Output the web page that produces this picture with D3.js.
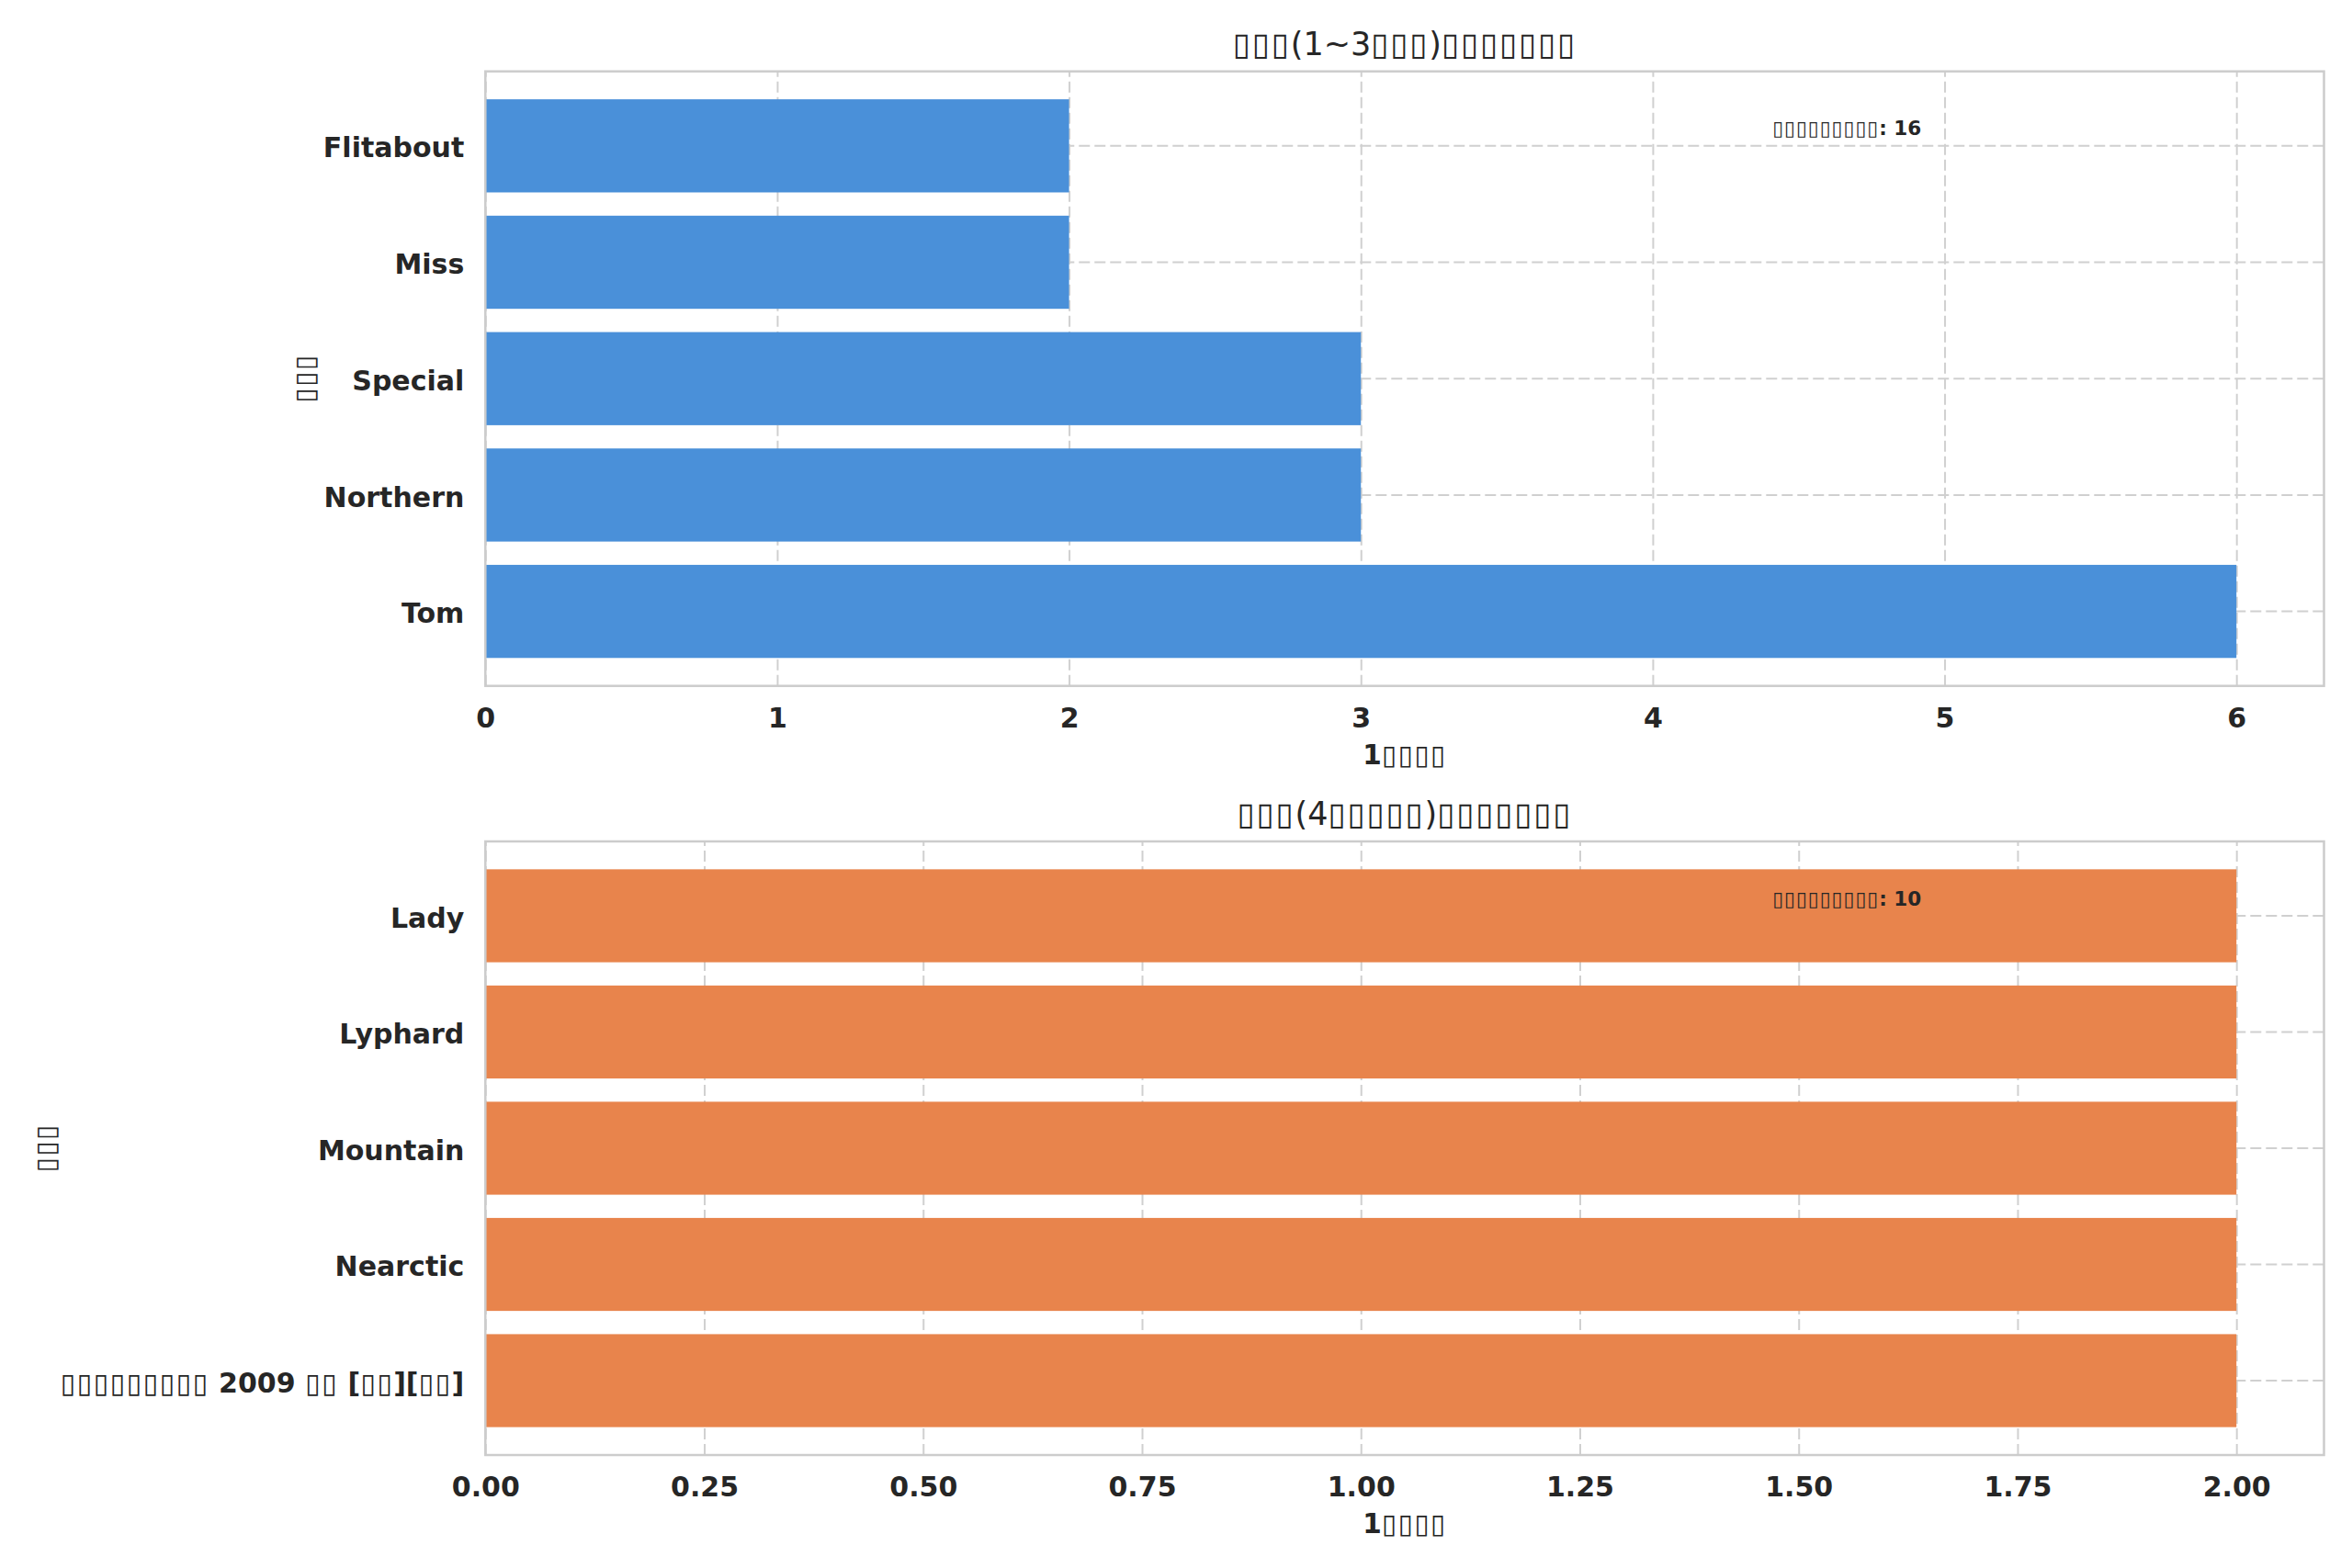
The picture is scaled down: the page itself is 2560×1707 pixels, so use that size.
<!DOCTYPE html>
<html>
<head>
<meta charset="utf-8">
<script src="https://cdn.jsdelivr.net/npm/d3@7"></script>
<style>
  body { margin: 0; background: #fff; }
  svg { display: block; font-family: "DejaVu Sans", sans-serif; }
</style>
</head>
<body>
<svg id="chart" width="2560" height="1707"></svg>
<script>
// glyphs that could not be drawn in the original picture are kept as ▯
var topNames = ["Tom", "Northern", "Special", "Miss", "Flitabout"];
var topWins = [6, 3, 3, 2, 2];
var bottomNames = ["▯▯▯▯▯▯▯▯▯ 2009 ▯▯ [▯▯][▯▯]", "Nearctic", "Mountain", "Lyphard", "Lady"];
var bottomWins = [2, 2, 2, 2, 2];
var topTicks = [0, 1, 2, 3, 4, 5, 6];
var bottomTicks = [0, 0.25, 0.5, 0.75, 1, 1.25, 1.5, 1.75, 2];
var topTitle = "▯▯▯(1~3▯▯▯)▯▯▯▯▯▯▯";
var bottomTitle = "▯▯▯(4▯▯▯▯▯)▯▯▯▯▯▯▯";
var xLabelText = "1▯▯▯▯";
var yLabelText = "▯▯▯";
var totalText = "▯▯▯▯▯▯▯▯▯: ";

var svg = d3.select("#chart");
svg.append("rect").attr("width", 2560).attr("height", 1707).attr("fill", "#fff");

var left = 528.3, right = 2529.5;
var textColor = "#262626";

// width of the box glyph, so that each box takes 0.6em like the original
var probe = svg.append("text").attr("font-size", 100).text("▯▯▯▯▯▯▯▯▯▯");
var boxAdv = probe.node().getComputedTextLength() / 1000;
probe.remove();
var boxSpacing = 0.6 - boxAdv;

function richText(sel, str) {
    var runs = str.match(/▯+|[^▯]+/g);
    runs.forEach(function (r) {
        var t = sel.append("tspan").text(r);
        if (r[0] === "▯") {
            t.attr("font-weight", "normal")
                .style("letter-spacing", boxSpacing + "em");
        }
    });
}

function drawPanel(cfg) {
    var top = cfg.top, bottom = cfg.bottom;
    var g = svg.append("g");
    var x = d3.scaleLinear()
        .domain([0, d3.max(cfg.values) * 1.05])
        .range([left, right]);
    var y = d3.scaleBand()
        .domain(cfg.names.slice().reverse())
        .range([top, bottom])
        .paddingInner(0.2)
        .paddingOuter(0.24);

    // grid
    var gx = g.append("g")
        .attr("transform", "translate(0," + bottom + ")")
        .call(d3.axisBottom(x).tickValues(cfg.ticks).tickSize(-(bottom - top)).tickFormat(""));
    var gy = g.append("g")
        .attr("transform", "translate(" + left + ",0)")
        .call(d3.axisLeft(y).tickSize(-(right - left)).tickFormat(""));
    [gx, gy].forEach(function (a) {
        a.select(".domain").remove();
        a.selectAll("line")
            .attr("stroke", "#d0d0d0")
            .attr("stroke-width", 2)
            .attr("stroke-dasharray", "12,5");
    });

    // bars
    g.selectAll(".bar")
        .data(cfg.names.map(function (n, i) { return { name: n, value: cfg.values[i] }; }))
        .enter().append("rect")
        .attr("class", "bar")
        .attr("x", x(0))
        .attr("y", function (d) { return y(d.name); })
        .attr("width", function (d) { return x(d.value) - x(0); })
        .attr("height", y.bandwidth())
        .attr("fill", cfg.color);

    // frame
    g.append("rect")
        .attr("x", left).attr("y", top)
        .attr("width", right - left).attr("height", bottom - top)
        .attr("fill", "none")
        .attr("stroke", "#cccccc")
        .attr("stroke-width", 2.5);

    // tick labels
    var ax = g.append("g")
        .attr("transform", "translate(0," + bottom + ")")
        .call(d3.axisBottom(x).tickValues(cfg.ticks).tickSize(0).tickPadding(24).tickFormat(cfg.fmt));
    var ay = g.append("g")
        .attr("transform", "translate(" + left + ",0)")
        .call(d3.axisLeft(y).tickSize(0).tickPadding(23).tickFormat(""));
    ay.selectAll(".tick text")
        .attr("dy", "0.42em")
        .each(function (d) { richText(d3.select(this), d); });
    [ax, ay].forEach(function (a) {
        a.select(".domain").remove();
        a.selectAll("text")
            .attr("font-family", "DejaVu Sans")
            .attr("font-size", 30)
            .attr("font-weight", "bold")
            .attr("fill", textColor);
    });

    // title
    var title = g.append("text")
        .attr("x", (left + right) / 2).attr("y", top - 18)
        .attr("text-anchor", "middle")
        .attr("font-size", 35)
        .attr("fill", textColor);
    richText(title, cfg.title);

    // axis labels
    var xl = g.append("text")
        .attr("x", (left + right) / 2).attr("y", bottom + 85)
        .attr("text-anchor", "middle")
        .attr("font-size", 29.5)
        .attr("font-weight", "bold")
        .attr("fill", textColor);
    richText(xl, xLabelText);
    var yl = g.append("text")
        .attr("transform", "translate(" + cfg.yLabelX + "," + (top + bottom) / 2 + ") rotate(-90)")
        .attr("text-anchor", "middle")
        .attr("font-size", 29.5)
        .attr("font-weight", "bold")
        .attr("fill", textColor);
    richText(yl, yLabelText);

    // total note
    var note = g.append("text")
        .attr("x", left + 0.7 * (right - left)).attr("y", top + 69.5)
        .attr("font-size", 21.5)
        .attr("font-weight", "bold")
        .attr("fill", textColor);
    richText(note, totalText + d3.sum(cfg.values));
}

drawPanel({
    names: topNames, values: topWins, ticks: topTicks,
    fmt: d3.format("d"), color: "#4a90d9",
    top: 77.7, bottom: 746.7, title: topTitle, yLabelX: 342
});
drawPanel({
    names: bottomNames, values: bottomWins, ticks: bottomTicks,
    fmt: d3.format(".2f"), color: "#e8844c",
    top: 916, bottom: 1584, title: bottomTitle, yLabelX: 60
});
</script>
</body>
</html>
